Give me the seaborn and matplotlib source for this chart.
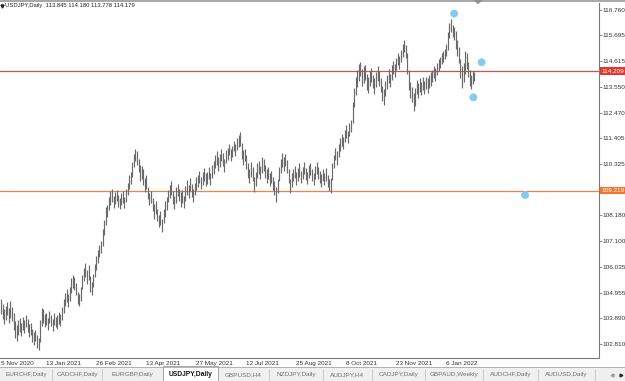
import matplotlib
matplotlib.use("Agg")
import matplotlib.pyplot as plt
import matplotlib.transforms as mtransforms
from matplotlib.patches import Rectangle, Polygon
import pandas as pd
import seaborn as sns

# ---------------- data ----------------
symbol_title = "USDJPY,Daily"
last_bar_ohlc = ["113.845", "114.180", "113.778", "114.179"]

bar_lows = [
    104.05, 103.85, 103.65, 103.80, 104.00, 103.70, 103.90, 103.75, 103.40, 103.05,
    102.95, 103.20, 103.30, 103.15, 103.40, 103.25, 103.50, 103.30, 103.10, 103.20,
    102.90, 102.75, 102.95, 102.65, 102.55, 102.90, 103.55, 103.70, 103.50, 103.60,
    103.40, 103.70, 103.55, 103.35, 103.60, 103.50, 103.45, 103.65, 103.55, 103.80,
    104.10, 104.40, 104.55, 104.35, 104.60, 104.95, 105.15, 105.05, 104.85, 104.50,
    104.40, 104.60, 105.10, 105.45, 105.60, 105.30, 105.50, 105.00, 104.85, 105.20,
    105.60, 105.90, 106.20, 106.45, 106.60, 106.90, 107.35, 107.80, 108.10, 108.40,
    108.60, 108.75, 108.50, 108.65, 108.80, 108.55, 108.45, 108.60, 108.70, 108.50,
    108.75, 109.05, 109.30, 109.50, 109.80, 110.20, 110.45, 110.30, 110.00, 109.60,
    109.70, 109.45, 109.15, 109.30, 108.85, 108.60, 108.70, 108.35, 108.05, 108.25,
    107.95, 107.70, 107.80, 107.48, 107.85, 108.10, 108.40, 108.75, 108.90, 109.05,
    108.65, 108.45, 108.70, 109.00, 108.80, 108.55, 108.70, 108.50, 108.80, 109.05,
    108.90, 109.20, 108.95, 108.75, 109.05, 109.25, 109.35, 109.55, 109.30, 109.45,
    109.60, 109.40, 109.50, 109.70, 109.45, 109.75, 109.90, 110.15, 110.30, 110.05,
    110.20, 110.45, 110.25, 110.00, 110.35, 110.50, 110.70, 110.45, 110.60, 110.85,
    110.65, 110.90, 111.05, 111.10, 110.55, 110.30, 110.45, 110.10, 109.75, 109.55,
    109.80, 109.60, 109.15, 109.40, 109.75, 109.90, 109.70, 109.95, 110.05, 109.75,
    109.55, 109.70, 109.40, 109.55, 109.25, 109.05, 108.75, 109.10, 109.60, 109.95,
    110.20, 110.05, 110.25, 109.95, 109.55, 109.10, 109.35, 109.60, 109.75, 109.45,
    109.60, 109.80, 109.55, 109.70, 109.90, 109.65, 109.50, 109.75, 109.85, 109.60,
    109.45, 109.70, 109.90, 109.70, 109.55, 109.35, 109.60, 109.45, 109.60, 109.35,
    109.20, 109.10, 109.65, 110.15, 110.50, 110.30, 110.60, 110.85, 111.10, 110.95,
    111.25, 111.40, 111.20, 111.50, 111.65, 112.05, 112.70, 113.20, 113.55, 113.80,
    114.00, 113.60, 113.70, 113.85, 113.40, 113.30, 113.60, 113.75, 113.50, 113.25,
    113.55, 113.80, 113.60, 113.35, 112.95, 112.80, 113.15, 113.45, 113.70, 113.55,
    113.85, 114.10, 113.95, 114.25, 114.45, 114.30, 114.60, 114.80, 115.00, 114.75,
    114.10, 113.40, 113.10, 112.90, 112.53, 112.75, 113.25, 113.10, 113.35, 113.20,
    113.40, 113.25, 113.45, 113.30, 113.50, 113.60, 113.75, 113.90, 113.80, 114.05,
    114.20, 114.35, 114.50, 114.60, 114.70, 114.85, 115.10, 115.60, 115.85, 115.65,
    115.50, 115.15, 114.85, 114.55, 113.90, 113.50, 113.75, 114.10, 114.30, 113.95,
    113.60, 113.45, 113.65, 113.778,
]
bar_highs = [
    104.70, 104.50, 104.25, 104.40, 104.55, 104.30, 104.60, 104.35, 104.10, 103.75,
    103.60, 103.80, 103.90, 103.70, 103.95, 103.80, 104.00, 103.85, 103.65, 103.70,
    103.45, 103.30, 103.40, 103.20, 103.05, 103.80, 104.30, 104.25, 104.05, 104.10,
    103.90, 104.20, 104.00, 103.85, 104.10, 103.95, 104.00, 104.15, 104.05, 104.35,
    104.70, 104.95, 105.10, 104.90, 105.20, 105.55, 105.70, 105.60, 105.35, 105.00,
    104.90, 105.20, 105.70, 106.00, 106.20, 105.90, 106.10, 105.65, 105.40, 105.75,
    106.15, 106.50, 106.75, 106.95, 107.10, 107.60, 108.00, 108.55, 108.60, 108.95,
    109.20, 109.30, 109.00, 109.15, 109.25, 109.05, 108.90, 109.10, 109.20, 108.95,
    109.30, 109.55, 109.85, 110.00, 110.40, 110.75, 110.97, 110.85, 110.55, 110.30,
    110.25, 110.10, 109.75, 109.85, 109.35, 109.10, 109.20, 108.90, 108.65, 108.80,
    108.45, 108.20, 108.35, 108.05, 108.45, 108.80, 108.95, 109.25, 109.45, 109.60,
    109.20, 109.00, 109.35, 109.50, 109.30, 109.15, 109.25, 109.00, 109.40, 109.65,
    109.45, 109.75, 109.50, 109.30, 109.55, 109.80, 109.85, 110.05, 109.80, 110.00,
    110.15, 109.95, 110.00, 110.20, 109.95, 110.30, 110.45, 110.70, 110.85, 110.60,
    110.75, 110.95, 110.80, 110.55, 110.90, 111.00, 111.15, 110.95, 111.10, 111.30,
    111.15, 111.40, 111.55, 111.66, 111.20, 110.90, 110.95, 110.70, 110.35, 110.10,
    110.40, 110.20, 109.80, 110.00, 110.35, 110.45, 110.25, 110.60, 110.55, 110.30,
    110.10, 110.20, 109.95, 110.05, 109.80, 109.60, 109.35, 109.70, 110.20, 110.55,
    110.80, 110.60, 110.75, 110.50, 110.10, 109.70, 109.95, 110.10, 110.25, 110.00,
    110.15, 110.35, 110.05, 110.20, 110.40, 110.15, 110.00, 110.30, 110.35, 110.10,
    109.95, 110.25, 110.40, 110.20, 110.05, 109.90, 110.10, 109.95, 110.15, 109.85,
    109.70, 109.75, 110.35, 110.70, 111.00, 110.85, 111.15, 111.40, 111.60, 111.45,
    111.75, 111.95, 111.70, 112.05, 112.15, 112.90, 113.50, 113.95, 114.25, 114.50,
    114.60, 114.30, 114.40, 114.45, 114.10, 113.95, 114.20, 114.35, 114.05, 113.90,
    114.15, 114.40, 114.20, 113.90, 113.60, 113.45, 113.80, 114.05, 114.30, 114.10,
    114.45, 114.65, 114.50, 114.75, 114.95, 114.85, 115.10, 115.35, 115.52, 115.30,
    114.95, 114.25, 113.75, 113.55, 113.30, 113.50, 113.85, 113.70, 113.90, 113.75,
    113.95, 113.80, 113.95, 113.90, 114.05, 114.15, 114.25, 114.40, 114.35, 114.55,
    114.70, 114.80, 114.95, 115.05, 115.15, 115.35, 115.85, 116.20, 116.38, 116.15,
    116.05, 115.90, 115.50, 115.20, 114.70, 114.40, 114.55, 115.05, 114.95, 114.60,
    114.25, 114.05, 114.20, 114.180,
]

date_labels = ["5 Nov 2020", "13 Jan 2021", "26 Feb 2021", "13 Apr 2021", "27 May 2021",
               "12 Jul 2021", "25 Aug 2021", "8 Oct 2021", "23 Nov 2021", "6 Jan 2022"]
date_label_bars = [-0.3, 29, 61, 93, 125, 157, 189, 221, 253, 285]

price_ticks = [116.760, 115.695, 114.615, 113.550, 112.470, 111.405, 110.325,
               108.180, 107.100, 106.035, 104.955, 103.890, 102.810]

level_prices = [114.209, 109.219]
level_line_colors = ["#c9554f", "#e9874a"]
level_box_colors = ["#e3362f", "#f4752f"]

dot_bars = [290.0, 307.6, 302.3, 335.4]
dot_prices = [116.61, 114.575, 113.113, 109.032]

tab_names = ["EURCHF,Daily", "CADCHF,Daily", "EURGBP,Daily", "USDJPY,Daily", "GBPUSD,H4",
             "NZDJPY,Daily", "AUDJPY,H4", "CADJPY,Daily", "GBPAUD,Weekly", "AUDCHF,Daily",
             "AUDUSD,Daily"]
active_tab = "USDJPY,Daily"

# ---------------- style ----------------
sns.set_theme(style="white")
plt.rcParams["font.family"] = ["Liberation Sans", "DejaVu Sans"]

W, H = 625, 381
PX_BAR = 1.5625            # pixels per bar
CH_RIGHT, CH_TOP, CH_BOTTOM = 599, 3, 357.5
PX_PER_YEN, Y_REF, P_REF = 23.94, 10.0, 116.760

fig = plt.figure(figsize=(W / 100, H / 100), dpi=100)
fig.patch.set_facecolor("white")

ax = fig.add_axes([0, (H - CH_BOTTOM) / H, CH_RIGHT / W, (CH_BOTTOM - CH_TOP) / H])
ax.set_facecolor("white")

bars = pd.DataFrame({"bar": range(len(bar_lows)), "low": bar_lows, "high": bar_highs})
ax.vlines(bars["bar"], bars["low"], bars["high"], color="#6a6a6a", linewidth=0.85)

for p, c in zip(level_prices, level_line_colors):
    ax.axhline(p, color=c, linewidth=0.9, zorder=1)

dots = pd.DataFrame({"bar": dot_bars, "price": dot_prices})
sns.scatterplot(data=dots, x="bar", y="price", ax=ax, s=32, color="#86cbef",
                edgecolor="none", zorder=5, legend=False)

ax.set_xlim((0 - 1) / PX_BAR, (CH_RIGHT - 1) / PX_BAR)
ax.set_ylim(P_REF - (CH_BOTTOM - Y_REF) / PX_PER_YEN, P_REF + (Y_REF - CH_TOP) / PX_PER_YEN)
ax.set_xlabel("")
ax.set_ylabel("")

for side in ["left", "top"]:
    ax.spines[side].set_visible(False)
for side in ["right", "bottom"]:
    ax.spines[side].set_color("#7a7a7a")
    ax.spines[side].set_linewidth(0.8)

ax.yaxis.tick_right()
ax.set_yticks(price_ticks)
ax.set_yticklabels([f"{p:.3f}" for p in price_ticks])
ax.tick_params(axis="y", direction="out", length=2.2, width=0.6, color="#7a7a7a",
               pad=0.6, labelsize=4.6, labelcolor="#333333")

ax.set_xticks(date_label_bars)
ax.set_xticklabels(date_labels, ha="left")
ax.tick_params(axis="x", direction="out", length=2.0, width=0.6, color="#7a7a7a",
               pad=0.3, labelsize=4.6, labelcolor="#333333")

# highlighted price boxes
trb = mtransforms.blended_transform_factory(fig.transFigure, ax.transData)
for p, c in zip(level_prices, level_box_colors):
    ax.text(601 / W, p, f"{p:.3f}", transform=trb, ha="left", va="center", fontsize=4.6,
            color="white", zorder=10, clip_on=False,
            bbox=dict(boxstyle="square,pad=0.22", fc=c, ec="none"))

# ---------------- overlay (window decorations) ----------------
ov = fig.add_axes([0, 0, 1, 1], zorder=3)
ov.set_xlim(0, W)
ov.set_ylim(H, 0)
ov.axis("off")
ov.patch.set_alpha(0)

ov.add_patch(Rectangle((0, 0), W, 2.4, fc="#a9a9a9", ec="none"))
ov.add_patch(Polygon([(473.5, 0), (482.5, 0), (478, 4.2)], closed=True, fc="#8f8f8f", ec="none"))

ov.plot([2.2], [5.6], marker="v", markersize=2.2, color="#222222")
ov.text(5, 5.6, symbol_title + "  " + " ".join(last_bar_ohlc), fontsize=4.2, color="#222222",
        ha="left", va="center")

# tab bar
TAB_TOP = 366.5
ov.add_patch(Rectangle((0, TAB_TOP), W, H - TAB_TOP, fc="#f0f0f0", ec="none"))
ov.plot([0, W], [TAB_TOP, TAB_TOP], color="#a8a8a8", linewidth=0.6)
tab_edges = [0, 52, 102, 163, 218, 269, 323, 372, 425, 483, 538, 595]
for i, name in enumerate(tab_names):
    x0, x1 = tab_edges[i], tab_edges[i + 1]
    if name == active_tab:
        ov.add_patch(Rectangle((x0, TAB_TOP - 1), x1 - x0, H - TAB_TOP + 1, fc="white",
                               ec="#9a9a9a", lw=0.6))
        ov.text((x0 + x1) / 2, 374.5, name, fontsize=4.8, fontweight="bold", color="#111111",
                ha="center", va="center")
    else:
        ov.text((x0 + x1) / 2, 374.5, name, fontsize=4.6, color="#6f6f6f",
                ha="center", va="center")
for x in tab_edges[1:]:
    if x in (163, 218):
        continue
    ov.plot([x, x], [369, 380], color="#c4c4c4", linewidth=0.6)
ov.plot([612], [374.5], marker="<", markersize=2.0, color="#9a9a9a")
ov.plot([621], [374.5], marker=">", markersize=2.0, color="#222222")

fig.savefig("out.png", dpi=100, facecolor="white")
